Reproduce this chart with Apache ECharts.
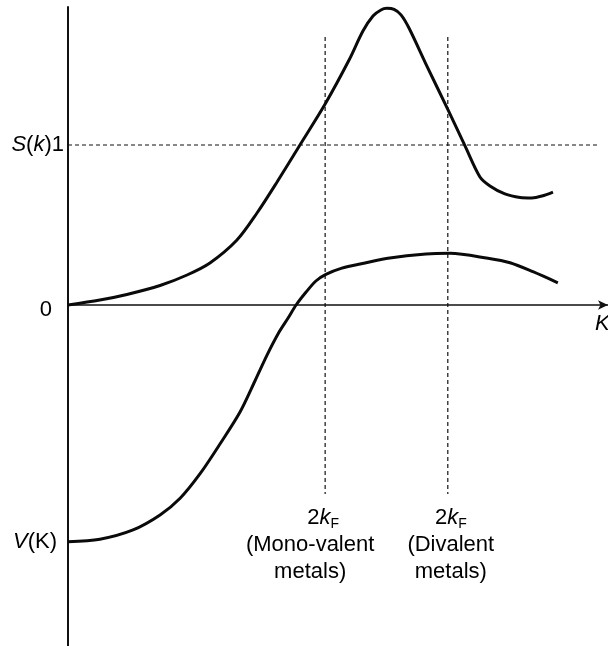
<!DOCTYPE html>
<html>
<head>
<meta charset="utf-8">
<script src="https://cdn.jsdelivr.net/npm/echarts@6/dist/echarts.min.js"></script>
<style>
  html, body { margin: 0; padding: 0; background: #fff; }
  #chart { width: 608px; height: 646px; }
</style>
</head>
<body>
<div id="chart"></div>
<script>
// S(k) structure factor
const kS = [0, 0.124, 0.229, 0.358, 0.463, 0.552, 0.657, 0.735, 0.813, 0.902, 1.0, 1.093, 1.147,
  1.186, 1.217, 1.24, 1.268, 1.295, 1.326, 1.392, 1.478, 1.544, 1.602, 1.641, 1.699, 1.758, 1.804, 1.843, 1.886]
const sVals = [0, 0.031, 0.066, 0.122, 0.1875, 0.2625, 0.406, 0.575, 0.769, 1.0, 1.256, 1.531, 1.712,
  1.806, 1.844, 1.854, 1.847, 1.813, 1.731, 1.506, 1.219, 0.994, 0.8, 0.744, 0.694, 0.672, 0.669, 0.681, 0.706]

// V(K) pseudopotential
const kV = [0, 0.124, 0.253, 0.358, 0.436, 0.513, 0.591, 0.669, 0.727, 0.774, 0.821, 0.856, 0.887,
  0.926, 0.964, 1.003, 1.062, 1.155, 1.244, 1.392, 1.486, 1.633, 1.719, 1.808, 1.905]
const vVals = [-1.479, -1.464, -1.406, -1.3125, -1.208, -1.056, -0.869, -0.669, -0.475, -0.313, -0.169, -0.081, 0,
  0.081, 0.15, 0.191, 0.229, 0.2625, 0.292, 0.319, 0.323, 0.292, 0.264, 0.208, 0.139]

// 2kF markers (mono-valent, divalent) and the S = 1 reference
const kF2 = [1.0, 1.477]
const kFNames = [['(Mono-valent', 'metals)'], ['(Divalent', 'metals)']]
const kFTop = 1.675
const kFBottom = -1.181
const sOne = 1
const sOneEnd = 2.065

const FONT = 'Liberation Sans'
const INK = '#000'
const FS = 22

const chart = echarts.init(document.getElementById('chart'))

const pairs = (xs, ys) => xs.map((x, i) => [x, ys[i]])

const dashed = {
  type: 'line',
  symbol: 'none',
  silent: true,
  lineStyle: { color: '#111', width: 1.2, type: [4, 3] },
  z: 1
}

const txt = (extra) => Object.assign({ fontFamily: FONT, fontSize: FS, color: INK, opacity: 1 }, extra)

const kFLabels = kF2.map((k, i) => ({
  value: [k, kFBottom],
  label: {
    show: true,
    position: 'bottom',
    distance: 10,
    color: INK,
    opacity: 1,
    offset: i === 0 ? [-15, 0] : [3, 0],
    formatter: (i === 0 ? '{n0|2}' : '{n|2}') + '{i|k}{sub|F}\n{t|' + kFNames[i][0] + '}\n{t|' + kFNames[i][1] + '}',
    rich: {
      n0: txt({ lineHeight: 27, padding: [0, 0, 0, 26] }),
      n: txt({ lineHeight: 27 }),
      i: txt({ lineHeight: 27, fontStyle: 'italic' }),
      sub: txt({ fontSize: 14, verticalAlign: 'bottom' }),
      t: txt({ lineHeight: 27 })
    }
  },
  itemStyle: { opacity: 0 }
}))

const option = {
  animation: false,
  grid: { left: 68, right: 0, top: 7, bottom: 0, containLabel: false, outerBoundsMode: 'none' },
  xAxis: {
    type: 'value',
    min: 0,
    max: 2.1,
    name: 'K',
    nameLocation: 'end',
    nameGap: -13,
    nameTextStyle: txt({ fontStyle: 'italic', align: 'left', verticalAlign: 'top', padding: [8, 0, 0, 0] }),
    axisLine: {
      onZero: true,
      symbol: ['none', 'arrow'],
      symbolSize: [7, 10],
      lineStyle: { color: '#111', width: 1.6 }
    },
    axisTick: { show: false },
    axisLabel: { show: false },
    splitLine: { show: false }
  },
  yAxis: {
    type: 'value',
    min: -2.13125,
    max: 1.8625,
    axisLine: { show: true, onZero: false, lineStyle: { color: '#111', width: 2 } },
    axisTick: { show: false },
    splitLine: { show: false },
    axisLabel: {
      show: true,
      margin: 4,
      color: INK,
      customValues: [vVals[0], 0, sOne],
      formatter: function (v) {
        if (v === sOne) return '{i|S}{r|(}{i|k}{r|)1}'
        if (v === 0) return '{z|0}'
        return '{i|V}{rv|(K)}'
      },
      rich: {
        i: txt({ fontStyle: 'italic' }),
        r: txt({}),
        rv: txt({ padding: [0, 7, 0, 0] }),
        z: txt({ padding: [10, 12, 0, 0] })
      }
    }
  },
  series: [
    Object.assign({}, dashed, { data: [[0, sOne], [sOneEnd, sOne]] }),
    Object.assign({}, dashed, { data: [[kF2[0], kFTop], [kF2[0], kFBottom]] }),
    Object.assign({}, dashed, { data: [[kF2[1], kFTop], [kF2[1], kFBottom]] }),
    {
      name: 'S(k)',
      type: 'line',
      smooth: 0.3,
      symbol: 'none',
      data: pairs(kS, sVals),
      lineStyle: { color: '#0a0a0a', width: 3 },
      z: 3
    },
    {
      name: 'V(K)',
      type: 'line',
      smooth: 0.3,
      symbol: 'none',
      data: pairs(kV, vVals),
      lineStyle: { color: '#0a0a0a', width: 3 },
      z: 3
    },
    {
      type: 'scatter',
      symbolSize: 1,
      silent: true,
      data: kFLabels
    }
  ]
}

chart.setOption(option)
</script>
</body>
</html>
